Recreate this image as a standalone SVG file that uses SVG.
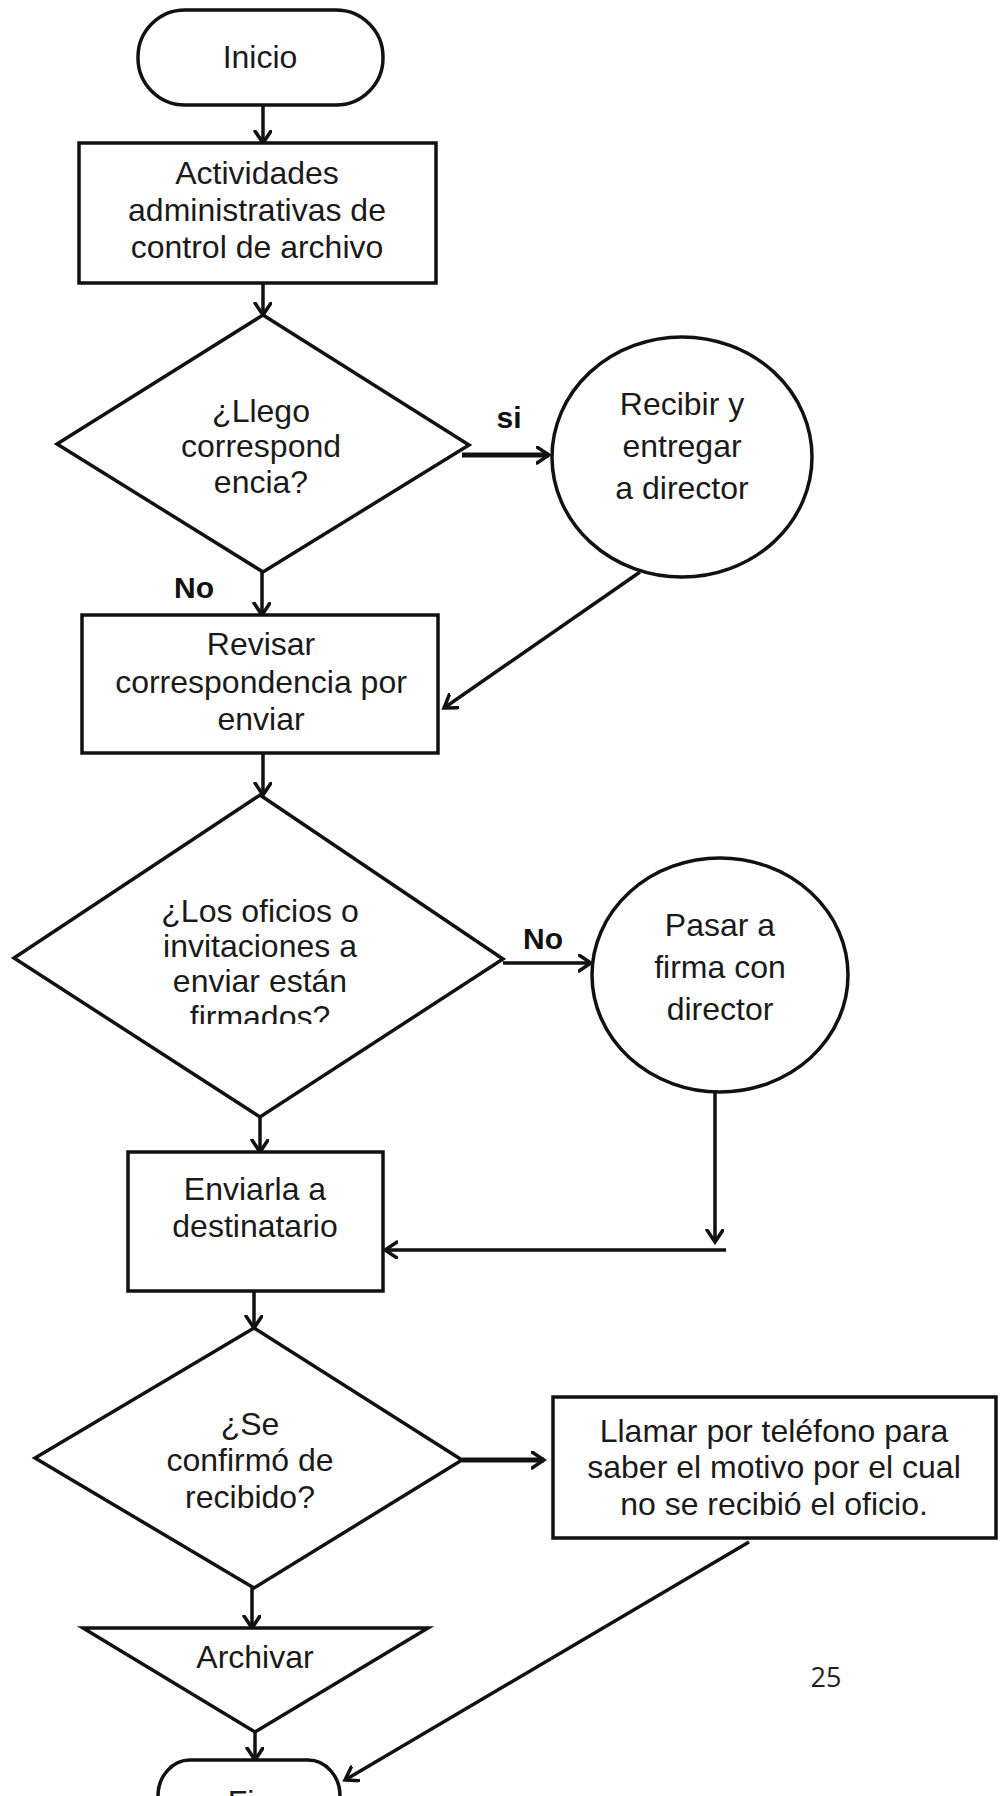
<svg xmlns="http://www.w3.org/2000/svg" width="1003" height="1796" viewBox="0 0 1003 1796">
  <style>
    .shape { fill: #ffffff; stroke: #111111; stroke-width: 3.5; stroke-linejoin: miter; }
    .lbl { font-family: "Liberation Sans", Arial, sans-serif; font-size: 32px; fill: #1a1a1a; text-anchor: middle; }
    .tag { font-family: "Liberation Sans", Arial, sans-serif; font-size: 30px; font-weight: bold; fill: #111111; text-anchor: middle; }
    .page { font-family: "Open Sans", "Liberation Sans", sans-serif; font-size: 27px; fill: #222222; text-anchor: middle; }
    .edge { fill: none; stroke: #111111; stroke-width: 3.5; marker-end: url(#head); }
    .edge.heavy { stroke-width: 5; }
  </style>
  <defs>
    <marker id="head" markerUnits="userSpaceOnUse" markerWidth="16" markerHeight="20" refX="13" refY="9" orient="auto">
      <path d="M1,1 L13,9 L1,17" fill="none" stroke="#111111" stroke-width="3.5" stroke-linecap="round" stroke-linejoin="miter"/>
    </marker>
    <clipPath id="cut-last-line">
      <rect x="0" y="990" width="1003" height="34"/>
    </clipPath>
  </defs>

  <rect width="1003" height="1796" fill="#ffffff"/>

  <!-- connectors -->
  <g id="connectors">
    <path class="edge" d="M263,105 L263,143"/>
    <path class="edge" d="M263,283 L263,315"/>
    <path class="edge" d="M262,572 L262,615"/>
    <path class="edge heavy" d="M462,455 L549,455"/>
    <path class="edge" d="M640,572 L444,708"/>
    <path class="edge" d="M263,753 L263,795"/>
    <path class="edge" d="M503,963 L591,963"/>
    <path class="edge" d="M715,1093 L715,1242"/>
    <path class="edge" d="M726,1250 L385,1250"/>
    <path class="edge" d="M260,1117 L260,1152"/>
    <path class="edge" d="M254,1291 L254,1328"/>
    <path class="edge heavy" d="M462,1460 L544,1460"/>
    <path class="edge" d="M252,1588 L252,1628"/>
    <path class="edge" d="M255,1732 L255,1760"/>
    <path class="edge" d="M749,1542 L345,1780"/>
    <!-- branch labels -->
    <text class="tag" x="509" y="428">si</text>
    <text class="tag" x="194" y="598">No</text>
    <text class="tag" x="543" y="949">No</text>
  </g>

  <!-- nodes -->
  <g id="inicio">
    <rect class="shape" x="138" y="10" width="245" height="95" rx="47" ry="47"/>
    <text class="lbl" x="260" y="68">Inicio</text>
  </g>

  <g id="actividades">
    <rect class="shape" x="79" y="143" width="357" height="140"/>
    <text class="lbl" x="257" y="184">Actividades</text>
    <text class="lbl" x="257" y="221">administrativas de</text>
    <text class="lbl" x="257" y="258">control de archivo</text>
  </g>

  <g id="llego-correspondencia">
    <polygon class="shape" points="263,315 469,445 263,572 57,444"/>
    <text class="lbl" x="261" y="422">¿Llego</text>
    <text class="lbl" x="261" y="457">correspond</text>
    <text class="lbl" x="261" y="493">encia?</text>
  </g>

  <g id="recibir-entregar">
    <ellipse class="shape" cx="682" cy="457" rx="130" ry="120"/>
    <text class="lbl" x="682" y="415">Recibir y</text>
    <text class="lbl" x="682" y="457">entregar</text>
    <text class="lbl" x="682" y="499">a director</text>
  </g>

  <g id="revisar">
    <rect class="shape" x="82" y="615" width="356" height="138"/>
    <text class="lbl" x="261" y="655">Revisar</text>
    <text class="lbl" x="261" y="693">correspondencia por</text>
    <text class="lbl" x="261" y="730">enviar</text>
  </g>

  <g id="oficios-firmados">
    <polygon class="shape" points="260,795 503,959 260,1117 14,958"/>
    <text class="lbl" x="260" y="922">¿Los oficios o</text>
    <text class="lbl" x="260" y="957">invitaciones a</text>
    <text class="lbl" x="260" y="992">enviar están</text>
    <text class="lbl" x="260" y="1028" clip-path="url(#cut-last-line)">firmados?</text>
  </g>

  <g id="pasar-firma">
    <ellipse class="shape" cx="720" cy="975" rx="128" ry="117"/>
    <text class="lbl" x="720" y="936">Pasar a</text>
    <text class="lbl" x="720" y="978">firma con</text>
    <text class="lbl" x="720" y="1020">director</text>
  </g>

  <g id="enviarla">
    <rect class="shape" x="128" y="1152" width="255" height="139"/>
    <text class="lbl" x="255" y="1200">Enviarla a</text>
    <text class="lbl" x="255" y="1237">destinatario</text>
  </g>

  <g id="confirmo-recibido">
    <polygon class="shape" points="254,1328 462,1460 254,1588 35,1458"/>
    <text class="lbl" x="250" y="1435">¿Se</text>
    <text class="lbl" x="250" y="1471">confirmó de</text>
    <text class="lbl" x="250" y="1508">recibido?</text>
  </g>

  <g id="llamar">
    <rect class="shape" x="553" y="1397" width="443" height="141"/>
    <text class="lbl" x="774" y="1442">Llamar por teléfono para</text>
    <text class="lbl" x="774" y="1478">saber el motivo por el cual</text>
    <text class="lbl" x="774" y="1515">no se recibió el oficio.</text>
  </g>

  <g id="archivar">
    <polygon class="shape" points="83,1628 428,1628 255,1732"/>
    <text class="lbl" x="255" y="1668">Archivar</text>
  </g>

  <g id="fin">
    <rect class="shape" x="158" y="1760" width="182" height="95" rx="32" ry="36"/>
    <text class="lbl" x="250" y="1813">Fin</text>
  </g>

  <text class="page" x="826" y="1687">25</text>
</svg>
